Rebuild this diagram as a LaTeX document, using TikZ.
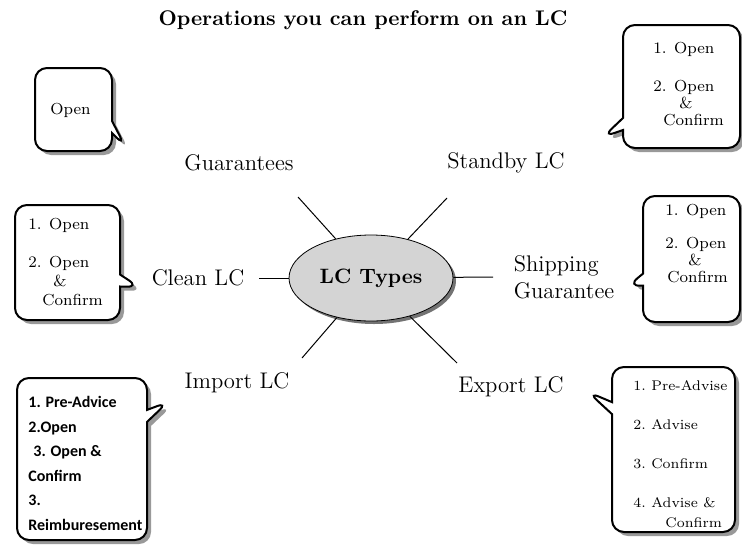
\documentclass[tikz,border=0pt]{standalone}
\usepackage{fontspec}
\newfontfamily\carlito{Carlito}
\usetikzlibrary{shapes.geometric,shapes.callouts,shadows}
\tikzset{
  bubble/.style={rectangle callout, draw, line width=1pt, rounded corners=6pt,
    fill=white, callout pointer width=6pt, inner sep=0pt,
    drop shadow={shadow xshift=2pt, shadow yshift=-2pt, fill=black!40, opacity=1}},
  ops/.style={font=\fontsize{8}{#1}\selectfont, inner sep=0pt, align=left, anchor=north west},
  ops/.default=8.5pt,
  lctype/.style={font=\fontsize{11.3}{13.5}\selectfont, inner sep=1pt},
  spoke/.style={line width=0.5pt}
}
\begin{document}
\begin{tikzpicture}[x=0.5pt,y=-0.5pt]
    \useasboundingbox (0,0) rectangle (742,546);
    \node[font=\bfseries\fontsize{10.6}{12}\selectfont] (title) at (363,20) {Operations you can perform on an LC};
    % centre
    \node[ellipse, draw, fill=black!17, minimum width=75.5pt, minimum height=43pt,
      drop shadow={shadow xshift=1.5pt, shadow yshift=-1.5pt, fill=black!55, opacity=1},
      font=\bfseries\fontsize{10.4}{12}\selectfont] (lc) at (371,278) {LC Types};
    % types
    \node[lctype] (gua) at (239,163) {Guarantees};
    \node[lctype] (sby) at (506,163) {Standby LC};
    \node[lctype] (cln) at (198,278) {Clean LC};
    \node[lctype, align=left] (shp) at (564,277) {Shipping\\Guarantee};
    \node[lctype] (imp) at (237,383) {Import LC};
    \node[lctype] (exp) at (511,387) {Export LC};
    \coordinate (gua-end) at (298,197);
    \coordinate (sby-end) at (447,198);
    \coordinate (cln-end) at (259,278);
    \coordinate (shp-end) at (493,277);
    \coordinate (imp-end) at (302,358);
    \coordinate (exp-end) at (457,363);
    \foreach \t in {gua,sby,cln,shp,imp,exp}
        \draw[spoke] (lc) -- (\t-end);
    % operations
    \node[bubble, minimum width=38.5pt, minimum height=41.5pt, callout absolute pointer={(125,146)}] (gua-bub) at (73.5,109.5) {};
    \node[ops, anchor=base west] (gua-ops) at (50,114) {Open};
    \node[bubble, minimum width=58.5pt, minimum height=61.5pt, callout absolute pointer={(603,137)}] (sby-bub) at (681.5,86.5) {};
    \node[ops] (sby-ops) at (653,42) {1. Open\\[10.5pt]2. Open\\\hspace{13pt}\&\\\hspace{5pt}Confirm};
    \node[bubble, minimum width=52.5pt, minimum height=57.5pt, callout absolute pointer={(139,287)}] (cln-bub) at (67.5,262.5) {};
    \node[ops=9.5pt] (cln-ops) at (28,218) {1. Open\\[9.5pt]2. Open\\\hspace{12.5pt}\&\\\hspace{7pt}Confirm};
    \node[bubble, minimum width=48.5pt, minimum height=63pt, callout absolute pointer={(628,286)}] (shp-bub) at (691.5,259) {};
    \node[ops] (shp-ops) at (665,204) {1. Open\\[8pt]2. Open\\\hspace{11.5pt}\&\\\hspace{1pt}Confirm};
    \node[bubble, minimum width=65pt, minimum height=81pt, callout absolute pointer={(168,402)}] (imp-bub) at (82,459) {};
    \node[ops, font=\carlito\bfseries\fontsize{8}{12.25}\selectfont] (imp-ops) at (28,396)
        {1. Pre-Advice\\2.Open\\\hspace{2.5pt}3. Open \&\\Confirm\\3.\\Reimburesement};
    \node[bubble, minimum width=61.5pt, minimum height=82.5pt, callout absolute pointer={(588,392)}] (exp-bub) at (673.5,449.5) {};
    \node[ops, font=\fontsize{7}{10}\selectfont] (exp-ops) at (633,380) {1.~Pre-Advise\\[9.5pt]2.~Advise\\[9.5pt]3.~Confirm\\[9.5pt]4.~Advise \&\\\hspace{16pt}Confirm};
\end{tikzpicture}
\end{document}
